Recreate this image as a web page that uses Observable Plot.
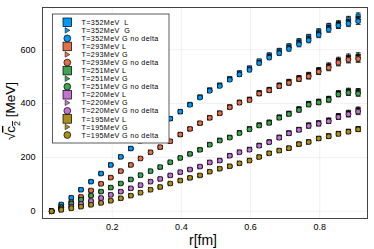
<!DOCTYPE html>
<html><head><meta charset="utf-8">
<script src="https://cdn.jsdelivr.net/npm/d3@7"></script>
<script src="https://cdn.jsdelivr.net/npm/@observablehq/plot@0.6"></script>
<style>html,body{margin:0;padding:0;background:#fff;}</style>
</head><body><div id="chart"></div>
<script>
const rVals = [0.025,0.053,0.082,0.110,0.139,0.168,0.196,0.225,0.254,0.282,0.311,0.339,0.368,0.397,0.425,0.454,0.482,0.511,0.540,0.568,0.597,0.625,0.654,0.683,0.711,0.740,0.768,0.797,0.826,0.854,0.883,0.911];
const temps = ["352","293","251","220","195"];
const colors = ["#009AFA","#E36F47","#3EA44E","#C371D2","#AC8E18"];
const xTicks = [0.2,0.4,0.6,0.8];
const yTicks = [0,200,400,600];

const L352 = [0,25,50,80,110,140,172,202,233,262,290,317,344,370,397,425,451,469,493,514,532,558,580,597,614,632,648,668,688,697,713,725];
const G352 = [0,25,50,80,110,140,172,202,233,262,290,317,344,370,396,423,448,466,490,510,528,553,575,591,608,626,641,660,680,692,702,712];
const N352 = [0,25,50,80,110,140,172,202,233,262,290,317,344,370,395,422,447,465,488,508,525,550,571,587,603,620,635,655,675,690,697,706];
const E352 = [1,2,2,2,3,3,3,3,4,4,4,4,5,5,5,5,6,6,6,7,7,7,8,8,8,9,9,10,10,11,11,12];

const L293 = [0,15,33,53,77,102,125,149,172,196,219,238,260,285,306,327,347,365,388,405,416,440,452,468,481,495,506,524,540,560,572,576];
const G293 = [0,15,33,53,77,102,125,149,172,196,219,238,260,285,306,327,347,364,387,404,414,438,450,466,479,493,503,520,536,555,566,570];
const N293 = [0,15,33,53,77,102,125,149,172,196,219,238,260,285,306,327,347,364,386,403,413,437,449,465,477,491,501,518,533,552,563,566];
const E293 = [1,2,2,2,3,3,3,3,4,4,4,4,5,5,5,5,6,6,6,7,7,8,8,8,9,9,10,10,11,12,12,13];

const L251 = [0,14,28,43,58,73,88,103,118,134,149,164,182,198,213,229,248,264,275,292,307,321,331,350,364,380,400,408,418,439,447,446];
const G251 = [0,14,28,43,58,73,88,103,118,134,149,164,182,198,213,228,247,263,274,291,305,319,329,348,362,378,398,406,416,436,443,441];
const N251 = [0,14,28,43,58,73,88,103,118,134,149,164,182,198,213,228,247,262,273,290,304,318,328,347,361,376,396,404,414,434,440,437];
const E251 = [1,1,2,2,2,2,3,3,3,3,3,4,4,4,4,5,5,5,5,6,6,6,7,7,7,8,8,8,9,9,10,10];

const L220 = [0,8,17,27,38,49,61,73,85,97,110,120,133,145,155,166,182,189,207,220,230,245,258,275,291,304,320,328,338,354,365,376];
const G220 = [0,8,17,27,38,49,61,73,85,97,110,120,133,145,155,166,181,188,206,219,229,244,257,274,290,303,318,326,336,352,362,373];
const N220 = [0,8,17,27,38,49,61,73,85,97,110,120,133,145,155,166,181,188,206,219,228,243,256,273,289,302,317,325,334,350,360,370];
const E220 = [1,1,1,2,2,2,2,3,3,3,3,3,4,4,4,4,5,5,5,5,6,6,6,7,7,7,8,8,8,9,10,11];

const L195 = [0,5,11,17,24,31,39,48,58,69,80,90,103,114,124,133,147,158,167,178,189,202,216,226,235,250,258,271,280,289,297,306];
const G195 = [0,5,11,17,24,31,39,48,58,69,80,90,103,114,124,133,147,158,167,178,188,201,215,225,234,249,257,270,279,288,296,305];
const N195 = [0,5,11,17,24,31,39,48,58,69,80,90,103,114,124,133,147,158,167,178,188,201,215,225,234,249,257,270,278,287,295,304];
const E195 = [1,1,1,1,2,2,2,2,2,3,3,3,3,3,4,4,4,4,4,5,5,5,5,5,6,6,6,6,7,7,7,8];

const seriesByT = [
  [L352,G352,N352,E352],[L293,G293,N293,E293],[L251,G251,N251,E251],[L220,G220,N220,E220],[L195,G195,N195,E195]
];
const typeNames = ["L","G","G no delta"];

const rtri = {draw(ctx, size){ const s = Math.sqrt(size)*0.62; ctx.moveTo(-s*0.85,-s); ctx.lineTo(s*1.05,0); ctx.lineTo(-s*0.85,s); ctx.closePath(); }};
const cap = {draw(ctx){ ctx.moveTo(-2.4,0); ctx.lineTo(2.4,0); }};

const marks = [
  Plot.gridX(xTicks, {stroke:"#000", strokeOpacity:0.1, strokeWidth:0.6}),
  Plot.gridY(yTicks, {stroke:"#000", strokeOpacity:0.1, strokeWidth:0.6}),
  Plot.axisX({ticks:xTicks, tickSize:0, tickPadding:5, tickFormat:d=>d.toFixed(1), label:null, fontSize:9}),
  Plot.axisY({ticks:yTicks, tickSize:0, tickPadding:7, label:null, fontSize:9})
];
seriesByT.forEach((ser, ti) => {
  const err = ser[3];
  for (let t = 0; t < 3; t++) {
    const rows = rVals.map((r, k) => ({r, v: ser[t][k], lo: ser[t][k]-err[k], hi: ser[t][k]+err[k]}));
    marks.push(Plot.ruleX(rows, {x:"r", y1:"lo", y2:"hi", stroke:"#000", strokeWidth:0.8}));
    marks.push(Plot.dot(rows, {x:"r", y:"lo", symbol:cap, r:2, stroke:"#000", strokeWidth:0.8, fill:"none"}));
    marks.push(Plot.dot(rows, {x:"r", y:"hi", symbol:cap, r:2, stroke:"#000", strokeWidth:0.8, fill:"none"}));
    const sym = t === 0 ? "square" : t === 1 ? rtri : "circle";
    const rr = t === 0 ? 2.4 : t === 1 ? 2.3 : 2.4;
    marks.push(Plot.dot(rows, {x:"r", y:"v", symbol:sym, r:rr, fill:colors[ti], stroke:"#000", strokeWidth:0.6}));
  }
});
marks.push(Plot.frame({stroke:"#444", strokeWidth:1}));

const chart = Plot.plot({
  width:374, height:249,
  marginLeft:42, marginRight:7, marginTop:7, marginBottom:31,
  style:{fontFamily:"'Liberation Sans', Arial, sans-serif", fontSize:"9px", background:"#fff", color:"#000"},
  x:{domain:[-0.0014,0.938]},
  y:{domain:[-27,757]},
  marks
});
document.getElementById("chart").appendChild(chart);

const svg = d3.select(chart);
// legend
const lg = svg.append("g").attr("font-family","'Liberation Sans', Arial, sans-serif").attr("font-size","7.2px").attr("text-anchor","start");
lg.append("rect").attr("x",52.5).attr("y",14).attr("width",116.5).attr("height",129).attr("fill","#fff").attr("stroke","#333").attr("stroke-width",0.8);
let i = 0;
temps.forEach((T, ti) => {
  typeNames.forEach((tn, t) => {
    const cy = 22.3 + i*8.05, cx = 67.3;
    if (t === 0) lg.append("rect").attr("x",cx-4.3).attr("y",cy-4.3).attr("width",8.6).attr("height",8.6).attr("fill",colors[ti]).attr("stroke","#000").attr("stroke-width",0.7);
    else if (t === 1) lg.append("path").attr("d",`M${cx-2.2},${cy-2.8}L${cx+2.6},${cy}L${cx-2.2},${cy+2.8}Z`).attr("fill",colors[ti]).attr("stroke","#000").attr("stroke-width",0.5);
    else lg.append("circle").attr("cx",cx).attr("cy",cy).attr("r",3.4).attr("fill",colors[ti]).attr("stroke","#000").attr("stroke-width",0.7);
    const label = (ti === 0 && t < 2) ? `T=${T}MeV  ${tn}` : `T=${T}MeV ${tn}`;
    lg.append("text").attr("x",81.5).attr("y",cy+2.6).attr("text-anchor","start").attr("letter-spacing","0.35px").attr("xml:space","preserve").style("white-space","pre").attr("fill","#000").text(label);
    i++;
  });
});
// axis labels
svg.append("text").attr("x",203).attr("y",245).attr("text-anchor","middle").attr("font-size","14px").attr("font-family","'Liberation Sans', Arial, sans-serif").attr("fill","#000").text("r[fm]");
const yl = svg.append("text").attr("transform","translate(15,111) rotate(-90)").attr("text-anchor","middle").attr("font-size","13.5px").attr("font-family","'Liberation Sans', Arial, sans-serif").attr("fill","#000");
yl.append("tspan").text("√");
yl.append("tspan").attr("text-decoration","overline").style("text-decoration","overline").text("c");
yl.append("tspan").attr("baseline-shift","sub").attr("font-size","9px").style("text-decoration","overline").text("2");
yl.append("tspan").text(" [MeV]");
</script>
</body></html>
